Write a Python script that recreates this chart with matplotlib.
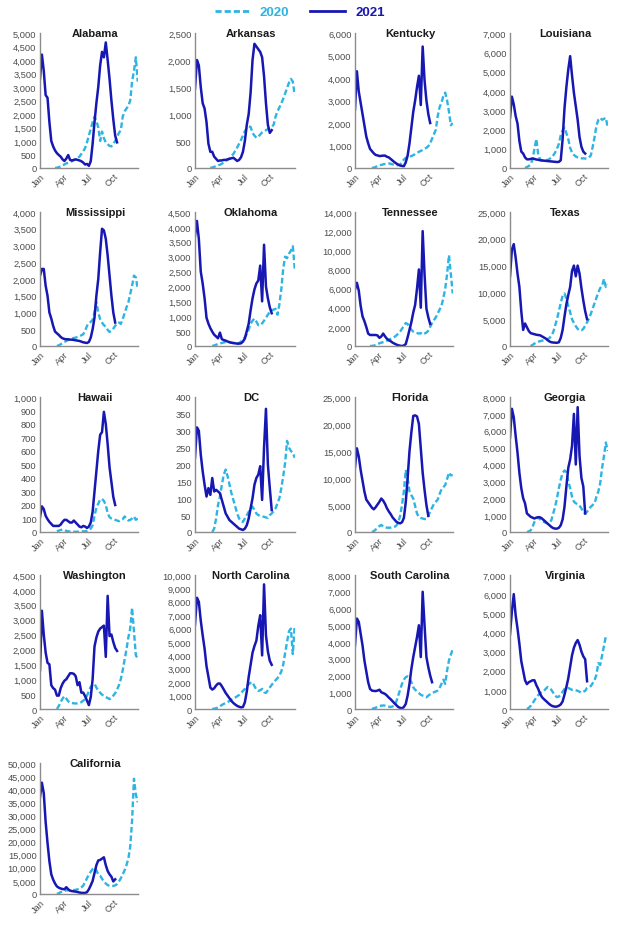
import numpy as np
import matplotlib
matplotlib.use("Agg")
import matplotlib.pyplot as plt
from matplotlib.lines import Line2D
from matplotlib.ticker import FuncFormatter

nan = np.nan

# weekly points, day of year
days_2021 = np.arange(0, 288, 7)
days_2020 = np.arange(56, 365, 7)

month_ticks = [0, 90, 181, 273]
month_labels = ["Jan", "Apr", "Jul", "Oct"]

alabama_2021 = [3300, 4200, 3600, 2700, 2600, 1700, 1000, 800, 650, 550, 480, 420, 320, 260, 350, 480, 300, 280, 300, 320, 300, 280, 250, 200, 130, 150, 80, 250, 900, 1700, 2400, 3000, 3800, 4300, 4100, 4650, 4000, 3300, 2500, 1800, 1200, 950]
alabama_2020 = [0, 10, 30, 60, 100, 130, 170, 190, 220, 250, 290, 330, 370, 420, 520, 620, 740, 950, 1200, 1450, 1700, 1900, 1750, 1500, 1000, 1350, 1100, 950, 880, 820, 800, 900, 1000, 1150, 1300, 1400, 1900, 2100, 2200, 2300, 2500, 3200, 3600, 4100, 3200]

arkansas_2021 = [1470, 2000, 1900, 1500, 1200, 1100, 850, 450, 300, 300, 210, 170, 130, 140, 140, 150, 150, 160, 170, 180, 190, 160, 130, 150, 200, 300, 500, 800, 1000, 1400, 2000, 2300, 2250, 2200, 2150, 2050, 1700, 1200, 800, 650, 700, nan]
arkansas_2020 = [0, 10, 20, 40, 50, 60, 80, 100, 130, 150, 180, 220, 260, 320, 380, 450, 520, 600, 680, 740, 770, 760, 650, 600, 560, 580, 620, 660, 680, 700, 720, 740, 760, 800, 950, 1050, 1120, 1200, 1280, 1380, 1480, 1580, 1650, 1600, 1350]

kentucky_2021 = [2600, 4300, 3400, 2900, 2400, 1900, 1400, 1100, 850, 750, 650, 580, 560, 530, 540, 550, 550, 500, 470, 400, 330, 260, 200, 150, 110, 90, 80, 250, 550, 1100, 1800, 2500, 3000, 3600, 4100, 2800, 5400, 3900, 3000, 2400, 2000, nan]
kentucky_2020 = [nan, 0, 20, 50, 80, 110, 140, 160, 180, 190, 200, 190, 160, 130, 120, 130, 150, 250, 380, 450, 480, 500, 530, 570, 620, 670, 720, 760, 800, 850, 900, 970, 1100, 1300, 1500, 1700, 2300, 2700, 2900, 3200, 3350, 3000, 2500, 1900, 2000]

louisiana_2021 = [2600, 3700, 3300, 2700, 2300, 1400, 850, 750, 550, 450, 450, 470, 490, 470, 440, 430, 400, 390, 380, 370, 360, 350, 340, 330, 320, 310, 320, 400, 1500, 3100, 4200, 5100, 5800, 4800, 3900, 3200, 2500, 1600, 1100, 850, 750, nan]
louisiana_2020 = [0, 50, 100, 200, 450, 1000, 1500, 700, 450, 400, 380, 400, 420, 470, 530, 650, 800, 1000, 1250, 1700, 1950, 2100, 1800, 1500, 1050, 800, 680, 600, 550, 520, 500, 500, 490, 500, 550, 650, 1100, 1600, 2200, 2500, 2600, 2500, 2550, 2600, 2100]

mississippi_2021 = [2100, 2300, 2300, 1800, 1500, 1000, 820, 600, 430, 380, 330, 270, 230, 210, 200, 200, 190, 190, 180, 170, 160, 150, 130, 110, 100, 90, 120, 250, 500, 850, 1500, 2000, 2800, 3500, 3450, 3200, 2700, 2100, 1500, 1000, 700, nan]
mississippi_2020 = [nan, 0, 20, 50, 90, 120, 150, 180, 200, 220, 240, 250, 270, 290, 320, 350, 450, 600, 680, 720, 780, 1000, 1300, 1000, 800, 700, 620, 580, 480, 420, 450, 520, 600, 680, 700, 660, 800, 980, 1150, 1300, 1550, 1800, 2100, 2050, 1700]

oklahoma_2021 = [3700, 4200, 3600, 2500, 2100, 1600, 950, 750, 600, 480, 380, 320, 260, 450, 230, 200, 180, 150, 130, 110, 100, 90, 80, 80, 90, 150, 250, 500, 750, 1200, 1600, 1900, 2100, 2200, 2700, 1500, 3400, 2000, 1600, 1300, 1100, nan]
oklahoma_2020 = [nan, 0, 20, 40, 70, 90, 100, 120, 130, 130, 120, 110, 100, 90, 80, 100, 150, 220, 300, 400, 550, 750, 850, 920, 820, 700, 700, 760, 850, 950, 1050, 1150, 1200, 1220, 1250, 1050, 1400, 1900, 2600, 3000, 2950, 3100, 3200, 3350, 2600]

tennessee_2021 = [5900, 6600, 5800, 4200, 3100, 2600, 2000, 1300, 1150, 1150, 1150, 1150, 1100, 850, 1000, 1300, 1000, 750, 600, 500, 350, 250, 150, 80, 30, 0, 50, 200, 900, 1700, 2500, 3500, 4300, 6000, 8000, 4000, 12000, 7500, 3900, 3000, 2300, nan]
tennessee_2020 = [0, 10, 40, 100, 200, 280, 350, 400, 460, 550, 650, 750, 850, 950, 1100, 1300, 1500, 1800, 2100, 2400, 2300, 2000, 1700, 1500, 1400, 1350, 1300, 1350, 1200, 1300, 1400, 1600, 2000, 2400, 2700, 3000, 3400, 3800, 4200, 5000, 6000, 7500, 9500, 7500, 5500]

texas_2021 = [13000, 18000, 19000, 16500, 13500, 11000, 6500, 3000, 4200, 3500, 2800, 2400, 2300, 2200, 2100, 2050, 2000, 1800, 1600, 1400, 1100, 850, 700, 650, 620, 600, 700, 1500, 3000, 5500, 7800, 9500, 11000, 14000, 15000, 13000, 15000, 13500, 10800, 8500, 6500, 5000]
texas_2020 = [nan, nan, nan, 0, 200, 450, 650, 800, 900, 1000, 1050, 1200, 1300, 1500, 1900, 2600, 3800, 5000, 6500, 8000, 9400, 9800, 8800, 7500, 6300, 5000, 4300, 3700, 3200, 2900, 2900, 3200, 3800, 4400, 5100, 6000, 7000, 8000, 9000, 10000, 10800, 11200, 12500, 11000, 11500]

hawaii_2021 = [110, 190, 170, 120, 95, 75, 60, 45, 45, 45, 45, 55, 75, 90, 90, 80, 70, 70, 85, 70, 55, 40, 35, 45, 40, 30, 40, 70, 150, 300, 450, 600, 720, 740, 890, 800, 650, 480, 370, 260, 200, nan]
hawaii_2020 = [nan, 5, 10, 15, 18, 15, 8, 5, 3, 2, 2, 2, 2, 3, 4, 5, 5, 8, 15, 25, 50, 120, 180, 210, 240, 245, 230, 200, 140, 110, 100, 95, 90, 85, 80, 90, 95, 115, 100, 85, 90, 100, 115, 90, 100]

dc_2021 = [220, 310, 300, 230, 180, 140, 105, 130, 110, 160, 120, 125, 120, 115, 95, 75, 55, 45, 35, 30, 25, 20, 15, 10, 8, 6, 10, 20, 40, 70, 100, 140, 160, 170, 195, 95, 250, 365, 200, 130, 65, nan]
dc_2020 = [nan, 0, 10, 40, 80, 105, 140, 170, 185, 165, 140, 115, 95, 75, 55, 40, 32, 30, 40, 50, 60, 68, 75, 65, 55, 50, 48, 46, 45, 43, 42, 50, 55, 62, 70, 85, 100, 130, 165, 205, 270, 250, 240, 235, 220]

florida_2021 = [12000, 15500, 14000, 11500, 9500, 7500, 6000, 5500, 5000, 4500, 4200, 4600, 5100, 5600, 6200, 5800, 5200, 4400, 3800, 3300, 2700, 2300, 1900, 1700, 1600, 1800, 2600, 5500, 10000, 15000, 18500, 21500, 21600, 21400, 20000, 15500, 11000, 7800, 5000, 3000, nan, nan]
florida_2020 = [nan, 0, 150, 450, 800, 1100, 1300, 1000, 850, 800, 800, 800, 850, 950, 1200, 1800, 3000, 5000, 7500, 11500, 10000, 7500, 6800, 6200, 4800, 3400, 2800, 2600, 2500, 2400, 2400, 3000, 3800, 4500, 5200, 5600, 6000, 7000, 7900, 8300, 8700, 9800, 11000, 10500, 10500]

georgia_2021 = [5600, 7300, 6800, 5700, 4700, 3500, 2600, 2000, 1700, 1100, 1000, 900, 850, 800, 850, 880, 870, 800, 700, 600, 500, 400, 300, 230, 200, 200, 250, 400, 750, 1500, 2700, 3800, 4300, 5100, 7000, 4000, 7400, 4500, 3200, 2700, 1100, nan]
georgia_2020 = [nan, 0, 30, 100, 300, 600, 800, 850, 750, 650, 600, 550, 500, 550, 700, 1100, 1500, 2000, 2600, 3100, 3500, 3650, 3550, 3000, 2600, 2100, 1800, 1700, 1650, 1550, 1400, 1150, 1100, 1200, 1350, 1500, 1600, 1700, 2100, 2400, 2900, 3800, 4500, 5300, 4800]

washington_2021 = [1300, 3300, 2500, 1900, 1550, 1500, 800, 700, 650, 450, 450, 700, 850, 950, 1000, 1100, 1200, 1200, 1180, 1100, 800, 900, 550, 550, 430, 280, 130, 400, 1000, 2100, 2400, 2600, 2700, 2750, 2800, 1750, 3800, 2450, 2500, 2250, 2050, 1950]
washington_2020 = [nan, 0, 100, 230, 350, 430, 350, 260, 210, 200, 190, 185, 190, 200, 230, 280, 330, 450, 600, 750, 820, 850, 720, 620, 550, 480, 440, 400, 370, 330, 380, 450, 530, 650, 800, 1000, 1300, 1650, 2000, 2400, 2700, 3400, 2600, 1800, 1700]

ncarolina_2021 = [6300, 8300, 8000, 6600, 5500, 4500, 3200, 2400, 1600, 1450, 1550, 1750, 1900, 1900, 1700, 1450, 1200, 1000, 800, 600, 450, 330, 230, 170, 120, 150, 500, 1300, 2400, 3300, 4200, 4700, 5100, 6200, 7000, 4000, 9300, 5500, 4300, 3600, 3300, nan]
ncarolina_2020 = [nan, 0, 20, 60, 120, 200, 300, 380, 450, 520, 600, 700, 780, 860, 950, 1050, 1200, 1350, 1500, 1700, 1850, 1950, 2000, 1700, 1450, 1350, 1400, 1500, 1250, 1200, 1400, 1600, 1800, 2000, 2150, 2300, 2500, 2800, 3300, 4200, 5000, 5800, 6000, 4100, 6200]

scarolina_2021 = [3800, 5400, 5200, 4500, 3800, 2900, 2250, 1600, 1200, 1100, 1080, 1070, 1100, 1150, 1000, 950, 900, 800, 680, 580, 460, 340, 230, 120, 70, 40, 120, 300, 800, 1500, 2400, 3100, 3700, 4300, 5000, 3100, 7000, 5000, 3100, 2500, 2000, 1600]
scarolina_2020 = [nan, 0, 40, 80, 120, 170, 200, 210, 200, 170, 140, 120, 150, 230, 450, 800, 1150, 1500, 1750, 1900, 1950, 1850, 1600, 1300, 1150, 1050, 950, 850, 800, 750, 700, 800, 880, 950, 1000, 1050, 1100, 1250, 1500, 1750, 1500, 2300, 2900, 3250, 3550]

virginia_2021 = [3900, 5100, 6000, 4900, 4200, 3400, 2500, 2000, 1500, 1300, 1400, 1450, 1500, 1500, 1250, 1050, 800, 620, 520, 430, 340, 250, 180, 140, 120, 130, 170, 240, 400, 750, 1150, 1600, 2200, 2800, 3200, 3450, 3600, 3350, 3000, 2750, 2600, 1450]
virginia_2020 = [nan, 0, 60, 160, 300, 450, 600, 720, 820, 900, 950, 1050, 1150, 1100, 1000, 850, 700, 620, 650, 750, 900, 1050, 1100, 1100, 1050, 1000, 1000, 980, 950, 900, 850, 900, 950, 1100, 1150, 1200, 1350, 1500, 1800, 2400, 2300, 2800, 3300, 3800, 3800]

california_2021 = [37000, 42500, 38500, 27500, 19500, 12500, 7500, 5500, 4000, 2900, 2400, 2100, 1900, 1800, 2600, 1800, 1300, 1100, 1000, 900, 750, 550, 450, 400, 420, 700, 1800, 3300, 5000, 8000, 11000, 12800, 13000, 13500, 14000, 11000, 8800, 7500, 6600, 4800, 5600, nan]
california_2020 = [nan, 0, 300, 700, 1000, 1200, 1400, 1400, 1400, 1400, 1500, 1600, 1800, 2000, 2500, 3200, 4500, 6000, 7500, 8500, 9500, 10000, 9000, 7500, 7000, 5800, 4800, 4000, 3400, 3100, 3000, 3100, 3300, 3800, 4800, 6000, 7500, 9000, 11000, 13500, 18000, 28000, 44000, 38000, 35000]

# name, 2021, 2020, y max, y step
states = [
    ("Alabama", alabama_2021, alabama_2020, 5000, 500),
    ("Arkansas", arkansas_2021, arkansas_2020, 2500, 500),
    ("Kentucky", kentucky_2021, kentucky_2020, 6000, 1000),
    ("Louisiana", louisiana_2021, louisiana_2020, 7000, 1000),
    ("Mississippi", mississippi_2021, mississippi_2020, 4000, 500),
    ("Oklahoma", oklahoma_2021, oklahoma_2020, 4500, 500),
    ("Tennessee", tennessee_2021, tennessee_2020, 14000, 2000),
    ("Texas", texas_2021, texas_2020, 25000, 5000),
    ("Hawaii", hawaii_2021, hawaii_2020, 1000, 100),
    ("DC", dc_2021, dc_2020, 400, 50),
    ("Florida", florida_2021, florida_2020, 25000, 5000),
    ("Georgia", georgia_2021, georgia_2020, 8000, 1000),
    ("Washington", washington_2021, washington_2020, 4500, 500),
    ("North Carolina", ncarolina_2021, ncarolina_2020, 10000, 1000),
    ("South Carolina", scarolina_2021, scarolina_2020, 8000, 1000),
    ("Virginia", virginia_2021, virginia_2020, 7000, 1000),
    ("California", california_2021, california_2020, 50000, 5000),
]

c2020 = "#2EB4E2"
c2021 = "#1717B3"
grey = "#4d4d4d"

plt.rcParams["font.family"] = ["Liberation Sans", "DejaVu Sans"]

W, H = 630, 929
fig = plt.figure(figsize=(W / 100, H / 100), dpi=100)

rows = [(34, 169), (213, 347), (398, 533), (576, 710), (764, 895)]
cols = [(40, 138), (195, 295), (355, 453), (510, 608)]

fmt = FuncFormatter(lambda v, p: f"{int(v):,}")

for i, (name, v21, v20, ymax, step) in enumerate(states):
    top, bot = rows[i // 4]
    left, right = cols[i % 4]
    ax = fig.add_axes([left / W, 1 - bot / H, (right - left) / W, (bot - top) / H])
    ax.plot(days_2020, v20, color=c2020, lw=1.7, ls=(0, (2.4, 1.2)))
    ax.plot(days_2021, v21, color=c2021, lw=1.8)
    ax.set_xlim(0, 365)
    ax.set_ylim(0, ymax)
    ax.set_yticks(np.arange(0, ymax + step, step))
    ax.yaxis.set_major_formatter(fmt)
    ax.set_xticks(month_ticks)
    ax.set_xticklabels(month_labels, rotation=45, ha="right", rotation_mode="anchor")
    ax.tick_params(length=0, labelsize=6.7, labelcolor=grey, pad=2.5)
    for s in ["top", "right"]:
        ax.spines[s].set_visible(False)
    for s in ["left", "bottom"]:
        ax.spines[s].set_color("#8c8c8c")
        ax.spines[s].set_linewidth(1)
    ax.text(0.56, 1.0, name, transform=ax.transAxes, ha="center", va="center",
            fontsize=8, fontweight="bold", color="#1a1a1a")

handles = [Line2D([], [], color=c2020, lw=2, ls=(0, (2.2, 1.1))),
           Line2D([], [], color=c2021, lw=2)]
leg = fig.legend(handles, ["2020", "2021"], loc="center", bbox_to_anchor=(0.476, 1 - 13 / H),
                 ncol=2, frameon=False, handlelength=2.6, handletextpad=0.8,
                 columnspacing=1.6, prop={"weight": "bold", "size": 9.5})
for t, c in zip(leg.get_texts(), [c2020, c2021]):
    t.set_color(c)

fig.savefig("out.png", dpi=100)
